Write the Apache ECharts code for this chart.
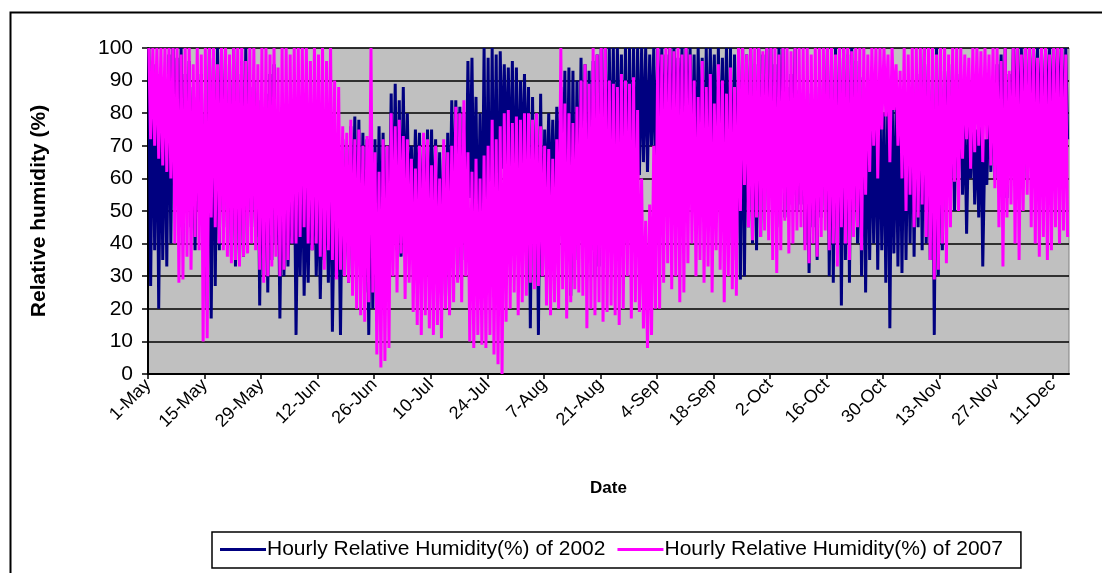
<!DOCTYPE html>
<html>
<head>
<meta charset="utf-8">
<script src="https://cdn.jsdelivr.net/npm/echarts@6/dist/echarts.min.js"></script>
<style>
html,body{margin:0;padding:0;background:#fff;}
#chart{width:1102px;height:573px;}
</style>
</head>
<body>
<div id="chart"></div>
<script>
// Date tick labels every 14 days starting 1-May
const tickLabels = ['1-May','15-May','29-May','12-Jun','26-Jun','10-Jul','24-Jul','7-Aug','21-Aug','4-Sep','18-Sep','2-Oct','16-Oct','30-Oct','13-Nov','27-Nov','11-Dec'];
const seriesNames = ['Hourly Relative Humidity(%) of 2002', 'Hourly Relative Humidity(%) of 2007'];
const yTicks = [0,10,20,30,40,50,60,70,80,90,100];

// Daily maximum / minimum of hourly RH (%), 1-May .. 14-Dec (228 days)
const rh2002Max = [
 100,95,92,90,88,98, 100,97,100,92, 96,88,85,92, 80,100,97,100,
 100,95,90,100,92,96,100, 88,90,84,78,86,92,95, 70,72,78,60, 70,65,72,60,68,
 65,60,58,62,70, 60,55, 72,70,76,79,78,74,72, 70, 72,76,74,70, 86,89,84,88,80,
 70,75,74,68,75, 75,72,68,70,74,84, 84,82,80, 96,97,85,80, 100,97,100,98,99,
 95,94,96,94,90,92, 88,85,80,86, 75,80,78,82,88, 93,94,93,90, 97,95,93,96,98,100,100,
 100,100,100,98,100,100,100, 100,100,100,98,100, 100,100,98,100,100,97,100,100,
 100,98,100,97,100,100,98,100,97,100,100,98, 100,100,98,100,95,100,98,
 100,100,95,100, 100,88,92,100, 87,85,83,86,84,88,90, 100,95,100,97,100,98,100,96,
 91,85,88,79,82,86,80,89, 89,82,85,88,84,86,90,92, 100,95,90,100,93, 93,95,90,92,
 85,80,78,82,75,80,72,84, 90,95,98,100,92,100,100,100,100,
 100,100,100,98,100,100,100,100,100,100
];
const rh2002Min = [
 27,38,20,35,33,40, 52,45,40,50, 45,38,50,42, 20,17,27,38,
 50,45,36,33,34,36,45, 45,42,21,30,25,35,40, 17,30,33,40, 12,30,24,28,38,
 30,23,35,28,13, 30,12, 35,28,40,33,30,25,12, 20, 28,30,25,35, 40,38,36,45,50,
 45,48,40,42,38, 40,35,30,23,38,45, 29,35,40, 54,48,35,30, 30,27,40,28,63,
 63,55,45,50,60,58, 14,40,12,30, 50,48,45,55,50, 40,24,35,45, 40,35,38,30,33,45,50,
 55,45,60,50,40,48,52, 61,65,62,70,58, 75,70,72,68,75,78,70,72,
 60,55,65,50,62,70,55,58,60,52,40,35, 29,30,45,40,38,42,50,
 55,50,45,60, 48,52,55,50, 52,40,31,45,35,48,50, 30,28,40,21,35,28,45,40,
 30,25,35,40,32,38,28,14, 37,33,31,35,40,36,45,38, 40,35,12,30,38, 60,55,50,62,
 55,43,60,52,48,33,58,62, 60,65,58,54,62,70,66,72,60,
 70,75,72,68,74,70,72,78,70,72
];
const rh2007Max = [
 100,100,100,100,100,100, 100,100,98,100, 100,95,100,98, 100,100,100,95,
 100,100,98,100,100,100,96, 100,100,95,100,100,98,100, 94,100,100,98, 100,100,100,100,96,
 100,98,100,96,100, 90,88, 76,74,78,72,75,70,73, 100, 68,62,72,70, 80,76,78,73,72,
 66,63,70,74,72, 64,70,60,72,68,70, 82,80,84, 68,62,66,60, 67,70,78,72,76,
 80,81,77,79,78,80, 80,78,80,76, 70,69,66,72,100, 83,80,77,82, 90,95,89,100,98,100,100,
 90,89,88,92,90,89,91, 81,60,47,52,70, 100,98,100,100,99,100,98,100,
 98,90,85,96,88,92,83,95,90,86,94,88, 100,100,98,100,100,100,99,
 100,100,100,98, 100,100,99,100, 100,100,100,98,100,100,100, 100,100,98,100,100,100,99,100,
 100,100,98,100,100,100,100,98, 100,95,93,100,98,100,100,100, 100,100,100,98,100, 100,98,100,100,
 100,98,97,100,100,99,100,98, 100,100,96,100,93,100,100,98,100,
 100,100,97,100,100,98,100,100,100,98
];
const rh2007Min = [
 72,70,66,64,62,60, 40,28,29,36, 32,42,38,10, 11,48,45,40,
 38,36,34,35,33,36,37, 40,38,32,28,30,33,36, 30,32,35,40, 40,42,45,40,38,
 40,36,32,38,35, 29,32, 30,28,24,20,18,16,22, 25, 6,2,4,8, 30,25,37,23,28,
 19,15,12,18,14, 12,15,11,20,18,22, 28,22,30, 10,8,12,9, 8,12,6,3,0,
 16,20,25,18,22,24, 28,26,27,30, 21,18,22,20,26, 17,22,26,25, 24,14,20,18,22,16,19,
 21,18,15,20,30,17,22, 19,14,8,12,20, 20,28,34,26,30,22,25,34,
 40,30,35,28,33,25,38,32,22,30,26,24, 50,58,45,41,48,42,44,
 41,35,31,38, 47,37,40,44, 45,38,34,40,36,42,44, 38,40,33,45,40,35,42,45,
 38,55,62,70,60,75,79,65, 81,70,60,50,55,45,48,52, 42,35,29,32,40, 34,45,59,50,
 66,72,63,68,70,65,72,64, 57,45,33,48,52,40,35,50,55,
 45,40,36,42,35,38,45,40,44,42
];

const DAYS = 228;
function build(maxArr, minArr) {
  const out = [];
  for (let d = 0; d < maxArr.length; d++) {
    out.push([d + 0.2, maxArr[d]]);
    out.push([d + 0.65, minArr[d]]);
  }
  return out;
}

const chart = echarts.init(document.getElementById('chart'));
const font = 'Liberation Sans, Arial, sans-serif';
chart.setOption({
  animation: false,
  backgroundColor: '#ffffff',
  graphic: [{
    type: 'rect', left: 8, top: 10, silent: true,
    shape: { width: 1200, height: 700 },
    style: { fill: 'none', stroke: '#000', lineWidth: 2 }
  }],
  grid: {
    left: 148, right: 33, top: 48, bottom: 199,
    show: true, backgroundColor: '#c0c0c0', borderColor: '#808080', borderWidth: 1
  },
  legend: {
    left: 212, top: 532,
    data: seriesNames,
    icon: 'rect', itemWidth: 46, itemHeight: 3, itemGap: 12,
    padding: [7, 18, 8, 8],
    borderColor: '#000', borderWidth: 1.5,
    textStyle: { fontFamily: font, fontSize: 21, color: '#000', padding: [0, 0, 0, -4] }
  },
  xAxis: {
    type: 'value', min: 0, max: DAYS, interval: 14,
    name: 'Date', nameLocation: 'middle', nameGap: 106,
    nameTextStyle: { fontFamily: font, fontSize: 17, fontWeight: 'bold', color: '#000' },
    axisLine: { show: true, lineStyle: { color: '#000', width: 2 } },
    axisTick: { show: true, inside: false, length: 5, lineStyle: { color: '#000', width: 1.5 } },
    splitLine: { show: false },
    axisLabel: {
      rotate: 45, fontFamily: font, fontSize: 18, color: '#000', margin: 8,
      showMaxLabel: false,
      formatter: function (v) { const i = Math.round(v / 14); return (v % 14 === 0 && i < tickLabels.length) ? tickLabels[i] : ''; }
    }
  },
  yAxis: {
    type: 'value', min: 0, max: 100, interval: 10,
    name: 'Relative humidity (%)', nameLocation: 'middle', nameGap: 98, nameRotate: 90,
    nameTextStyle: { fontFamily: font, fontSize: 21, fontWeight: 'bold', color: '#000' },
    axisLine: { show: true, lineStyle: { color: '#000', width: 2 } },
    axisTick: { show: true, inside: false, length: 6, lineStyle: { color: '#000', width: 1.5 } },
    splitLine: { show: true, lineStyle: { color: '#000', width: 1.5 } },
    axisLabel: { fontFamily: font, fontSize: 21, color: '#000', margin: 15,
      formatter: function (v) { return yTicks.indexOf(v) >= 0 ? String(v) : ''; } }
  },
  series: [
    { name: seriesNames[0], type: 'line', data: build(rh2002Max, rh2002Min), showSymbol: false, symbol: 'none',
      lineStyle: { color: '#000080', width: 3 }, itemStyle: { color: '#000080' }, z: 2 },
    { name: seriesNames[1], type: 'line', data: build(rh2007Max, rh2007Min), showSymbol: false, symbol: 'none',
      lineStyle: { color: '#ff00ff', width: 3 }, itemStyle: { color: '#ff00ff' }, z: 3 }
  ]
});
</script>
</body>
</html>
